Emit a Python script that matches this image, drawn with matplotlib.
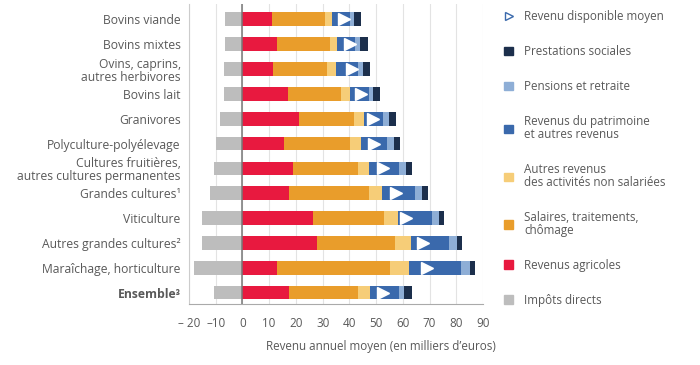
import numpy as np
import matplotlib
matplotlib.use("Agg")
import matplotlib.pyplot as plt
from matplotlib.lines import Line2D
from matplotlib.patches import Patch

plt.rcParams['font.family'] = ['Open Sans', 'DejaVu Sans']

# -------------------------
# Data (milliers d'euros)
# -------------------------
categories = [
    "Bovins viande", "Bovins mixtes", "Ovins, caprins,\nautres herbivores",
    "Bovins lait", "Granivores", "Polyculture-polyélevage",
    "Cultures fruitières,\nautres cultures permanentes", "Grandes cultures¹",
    "Viticulture", "Autres grandes cultures²", "Maraîchage, horticulture",
    "Ensemble³",
]
revenus_agricoles = [11.1, 12.75, 11.6, 16.9, 21.25, 15.5, 18.75, 17.5, 26.5, 27.9, 13.1, 17.5]
salaires = [19.6, 20.0, 20.15, 20.0, 20.5, 24.9, 24.35, 30.0, 26.6, 29.1, 42.0, 25.6]
autres_non_salaries = [2.9, 2.75, 3.25, 3.2, 3.65, 4.0, 4.3, 4.6, 5.15, 6.0, 7.15, 4.8]
patrimoine = [6.5, 6.6, 8.4, 7.3, 7.1, 9.6, 11.1, 12.5, 12.5, 14.4, 19.5, 10.5]
pensions = [1.6, 1.9, 1.6, 1.5, 2.25, 2.75, 2.6, 2.65, 2.85, 2.85, 3.25, 2.1]
prestations = [2.8, 2.9, 2.75, 2.6, 2.65, 2.35, 2.4, 2.0, 1.8, 1.85, 1.9, 3.0]
impots = [-6.4, -6.4, -7.0, -7.0, -8.25, -9.9, -10.75, -12.25, -15.0, -15.0, -18.25, -10.75]
revenu_disponible = [38.1, 40.25, 40.9, 44.4, 49.0, 49.25, 52.75, 57.6, 61.1, 67.6, 69.0, 52.5]

xticks = [-20, -10, 0, 10, 20, 30, 40, 50, 60, 70, 80, 90]
xticklabels = ["– 20", "–10", "0", "10", "20", "30", "40", "50", "60", "70", "80", "90"]

series = [
    (revenus_agricoles, "#E8193F"),
    (salaires, "#E99D2B"),
    (autres_non_salaries, "#F6CD78"),
    (patrimoine, "#3A69AC"),
    (pensions, "#8EAED6"),
    (prestations, "#1C2F4C"),
]

TXT = "#595959"
FS = 8.4

fig = plt.figure(figsize=(7, 3.65), dpi=100)
ax = fig.add_axes([0.27, 0.1663, 0.42, 0.8216])

y = np.arange(len(categories))
h = 0.55

ax.barh(y, impots, height=h, color="#BDBDBD", zorder=2)
left = np.zeros(len(categories))
for vals, col in series:
    ax.barh(y, vals, left=left, height=h, color=col, zorder=2)
    left += np.array(vals)

ax.plot(revenu_disponible, y, linestyle="none", marker=">", markersize=8,
        markerfacecolor="white", markeredgecolor="white", zorder=3)

ax.axvline(0, color="#777777", lw=1.1, zorder=3)

ax.set_xlim(-20, 90)
ax.set_ylim(len(categories) - 1 + 0.47, -0.6)
ax.set_xticks(xticks)
ax.set_xticklabels(xticklabels)
ax.set_yticks(y)
ax.set_yticklabels(categories, linespacing=1.0)
for lab in ax.get_yticklabels():
    if lab.get_text().startswith("Ensemble"):
        lab.set_fontweight("bold")
ax.tick_params(axis="both", length=0, labelsize=FS, colors=TXT)
ax.tick_params(axis="y", pad=6, labelsize=8.7)
ax.tick_params(axis="x", pad=9)

ax.grid(axis="x", color="#E3E3E3", lw=0.8, zorder=0)
for s in ["top", "right"]:
    ax.spines[s].set_visible(False)
ax.spines["left"].set_color("#CCCCCC")
ax.spines["bottom"].set_color("#AAAAAA")

fig.text(0.708, 0.04, "Revenu annuel moyen (en milliers d’euros)", ha="right",
         fontsize=FS, color=TXT)

# -------------------------
# Legend
# -------------------------
handles = [
    Line2D([], [], linestyle="none", marker=">", markersize=5.5,
           markerfacecolor="white", markeredgecolor="#3A69AC"),
    Patch(color="#1C2F4C"),
    Patch(color="#8EAED6"),
    Patch(color="#3A69AC"),
    Patch(color="#F6CD78"),
    Patch(color="#E99D2B"),
    Patch(color="#E8193F"),
    Patch(color="#BDBDBD"),
]
labels = [
    "Revenu disponible moyen", "Prestations sociales", "Pensions et retraite",
    "Revenus du patrimoine\net autres revenus",
    "Autres revenus\ndes activités non salariées",
    "Salaires, traitements,\nchômage", "Revenus agricoles", "Impôts directs",
]
leg = fig.legend(handles, labels, loc="upper left", bbox_to_anchor=(0.714, 0.985),
                 frameon=False, fontsize=FS, labelspacing=1.88, handlelength=0.75,
                 handleheight=0.75, handletextpad=0.95, borderaxespad=0)
for t in leg.get_texts():
    t.set_color(TXT)
    t.set_linespacing(1.0)

fig.savefig("out.png", dpi=100)
